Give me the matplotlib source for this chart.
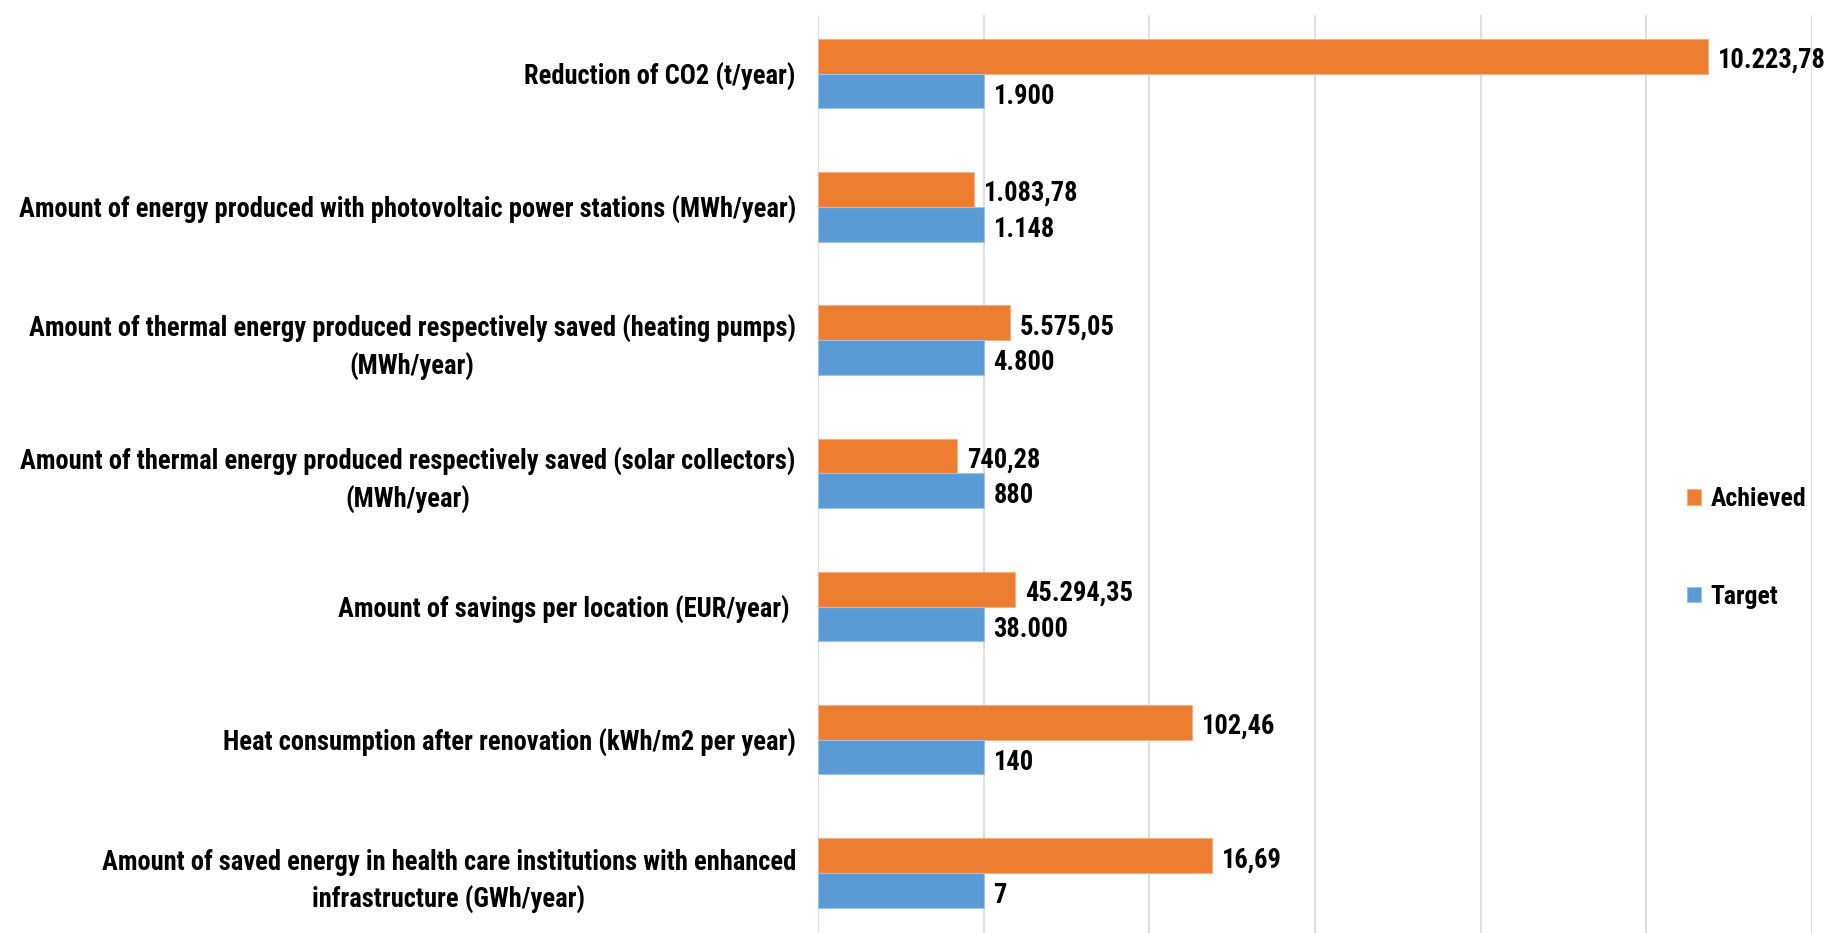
import matplotlib
matplotlib.use("Agg")
import matplotlib.pyplot as plt
from matplotlib import font_manager
import numpy as np

# categories, top to bottom
categories = [
    "Reduction of CO2 (t/year)",
    "Amount of energy produced with photovoltaic power stations (MWh/year)",
    "Amount of thermal energy produced respectively saved (heating pumps)\n(MWh/year)",
    "Amount of thermal energy produced respectively saved (solar collectors)\n(MWh/year)",
    "Amount of savings per location (EUR/year) ",
    "Heat consumption after renovation (kWh/m2 per year)",
    "Amount of saved energy in health care institutions with enhanced\ninfrastructure (GWh/year)",
]
achieved_text = ["10.223,78", "1.083,78", "5.575,05", "740,28", "45.294,35", "102,46", "16,69"]
target_text = ["1.900", "1.148", "4.800", "880", "38.000", "140", "7"]
# bar lengths as drawn (target = 1 unit)
achieved_len = [5.37, 0.944, 1.156, 0.838, 1.19, 2.257, 2.38]
target_len = [1.0, 1.0, 1.0, 1.0, 1.0, 1.0, 1.0]

ORANGE = "#ED7D31"
BLUE = "#5B9BD5"

names = {f.name for f in font_manager.fontManager.ttflist}
pick = next((n for n in ["Liberation Sans Narrow", "Roboto Condensed", "Open Sans Condensed", "Lato"] if n in names),
            "DejaVu Sans")
plt.rcParams["font.family"] = [pick, "DejaVu Sans"]
plt.rcParams["font.weight"] = "bold"


def draw(FS):
    fig = plt.figure(figsize=(18.37, 9.33), dpi=100)
    ax = fig.add_axes([818 / 1837, 0.0, (1812 - 818) / 1837, 1 - 15 / 933])

    y = np.arange(len(categories))
    h = 0.26
    ax.barh(y - h / 2, achieved_len, height=h, color=ORANGE, edgecolor="#F4B183", linewidth=0.8,
            label="Achieved", zorder=3)
    ax.barh(y + h / 2, target_len, height=h, color=BLUE, edgecolor="#9DC3E6", linewidth=0.8,
            label="Target", zorder=3)

    for yi, v, t in zip(y, achieved_len, achieved_text):
        ax.text(v + 0.06, yi - h / 2 + 0.03, t, va="center", ha="left", fontsize=FS, clip_on=False)
    for yi, v, t in zip(y, target_len, target_text):
        ax.text(v + 0.06, yi + h / 2 + 0.04, t, va="center", ha="left", fontsize=FS, clip_on=False)

    ax.set_xlim(0, 6)
    ax.set_ylim(6.45, -0.44)
    ax.set_xticks(np.arange(0, 7))
    ax.set_xticklabels([])
    ax.tick_params(axis="x", length=0)
    ax.grid(axis="x", color="#D9D9D9", linewidth=1.2, zorder=0)
    ax.set_yticks(y)
    ax.set_yticklabels(categories, fontsize=FS)
    ax.tick_params(axis="y", length=0, pad=16)
    for lbl in ax.get_yticklabels():
        lbl.set_multialignment("center")
        lbl.set_linespacing(1.45)
    for s in ax.spines.values():
        s.set_visible(False)

    handles, labels = ax.get_legend_handles_labels()
    fig.legend(handles, labels, loc="center left", bbox_to_anchor=(1664 / 1837, 1 - 548 / 933),
               frameon=False, fontsize=FS * 0.97, handlelength=0.55, handleheight=0.55,
               handletextpad=0.35, labelspacing=2.85)
    return fig, ax


# size the font so the longest label is as wide as in the source (~784 px)
fig, ax = draw(17)
fig.canvas.draw()
w = ax.get_yticklabels()[1].get_window_extent().width
plt.close(fig)
fig, ax = draw(17 * 780 / w)
fig.savefig("out.png", dpi=100)
